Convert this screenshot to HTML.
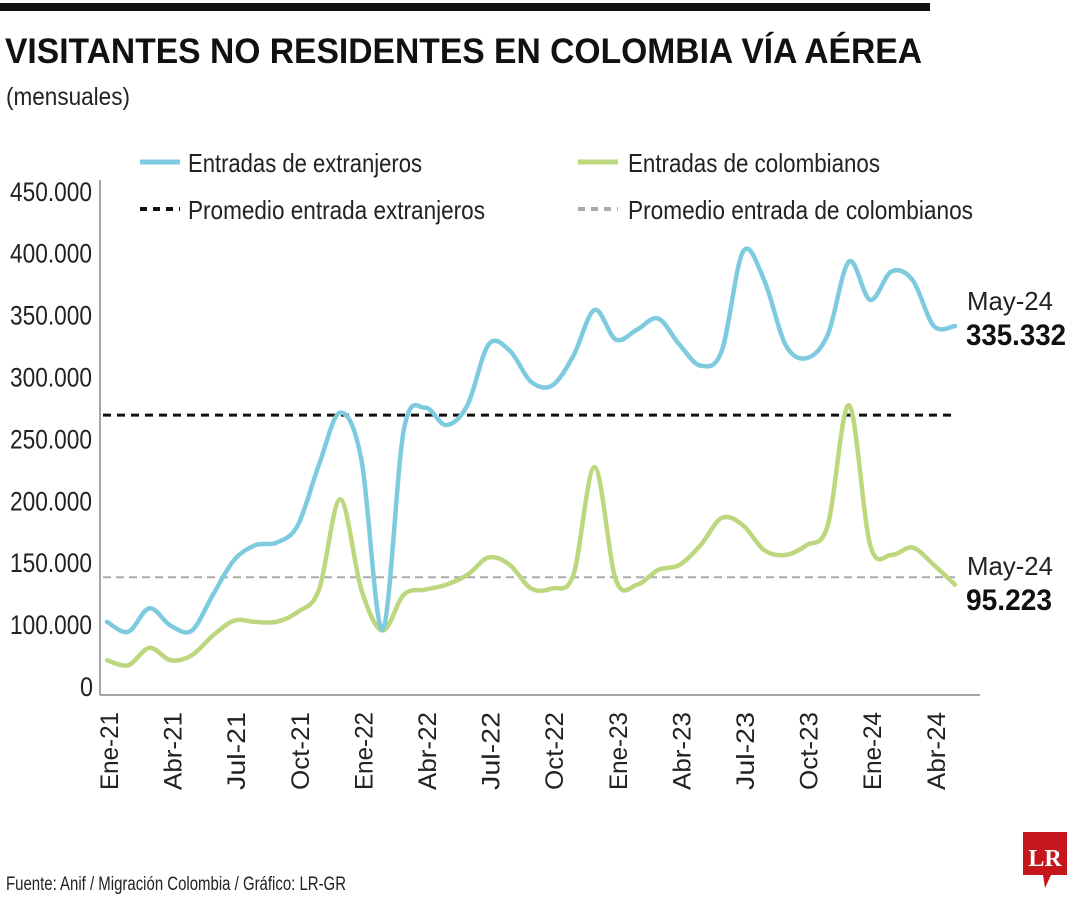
<!DOCTYPE html>
<html><head><meta charset="utf-8">
<style>
body{margin:0;background:#fff;}
#wrap{position:relative;width:1080px;height:900px;overflow:hidden;font-family:"Liberation Sans Narrow","Liberation Sans",sans-serif;}
svg text{font-family:"Liberation Sans Narrow","Liberation Sans",sans-serif;}
</style></head>
<body>
<div id="wrap">
<svg id="chart" width="1080" height="900">
  <rect x="0" y="3" width="930" height="8" fill="#111"/>
  <text x="5" y="63" font-size="35" font-weight="bold" fill="#111" textLength="917" lengthAdjust="spacingAndGlyphs">VISITANTES NO RESIDENTES EN COLOMBIA VÍA AÉREA</text>
  <text x="6" y="105" font-size="25" fill="#222" textLength="124" lengthAdjust="spacingAndGlyphs">(mensuales)</text>
  <g>
    <line x1="140" y1="162" x2="180" y2="162" stroke="#7ecbe0" stroke-width="5"/>
    <text x="188" y="172" font-size="26" fill="#222" textLength="234" lengthAdjust="spacingAndGlyphs">Entradas de extranjeros</text>
    <line x1="578" y1="162" x2="618" y2="162" stroke="#bcd77d" stroke-width="5"/>
    <text x="628" y="172" font-size="26" fill="#222" textLength="252" lengthAdjust="spacingAndGlyphs">Entradas de colombianos</text>
    <line x1="140" y1="209" x2="180" y2="209" stroke="#111" stroke-width="4" stroke-dasharray="7,6"/>
    <text x="188" y="219" font-size="26" fill="#222" textLength="297" lengthAdjust="spacingAndGlyphs">Promedio entrada extranjeros</text>
    <line x1="578" y1="209" x2="618" y2="209" stroke="#aaa" stroke-width="4" stroke-dasharray="7,6"/>
    <text x="628" y="219" font-size="26" fill="#222" textLength="345" lengthAdjust="spacingAndGlyphs">Promedio entrada de colombianos</text>
  </g>
  <g id="plot"></g>
  <g>
    <text x="967" y="310" font-size="26" fill="#222" textLength="86" lengthAdjust="spacingAndGlyphs">May-24</text>
    <text x="966" y="345" font-size="30" font-weight="bold" fill="#111" textLength="100" lengthAdjust="spacingAndGlyphs">335.332</text>
    <text x="967" y="575" font-size="26" fill="#222" textLength="86" lengthAdjust="spacingAndGlyphs">May-24</text>
    <text x="966" y="610" font-size="30" font-weight="bold" fill="#111" textLength="86" lengthAdjust="spacingAndGlyphs">95.223</text>
  </g>
  <text x="6" y="890" font-size="19" fill="#222" textLength="340" lengthAdjust="spacingAndGlyphs">Fuente: Anif / Migración Colombia / Gráfico: LR-GR</text>
  <g>
    <path d="M1023 832 H1067 V875 H1051 L1045 888 L1043 875 H1023 Z" fill="#c4161c"/>
    <text x="1045" y="866" font-size="24" font-weight="bold" fill="#fff" text-anchor="middle" style="font-family:'Liberation Serif',serif">LR</text>
  </g>
</svg>
</div>
<script>
const tickValues=[50000,100000,150000,200000,250000,300000,350000,400000,450000];
const tickLabels=["0","100.000","150.000","200.000","250.000","300.000","350.000","400.000","450.000"];
const xLabels=["Ene-21","Abr-21","Jul-21","Oct-21","Ene-22","Abr-22","Jul-22","Oct-22","Ene-23","Abr-23","Jul-23","Oct-23","Ene-24","Abr-24"];
const extranjeros=[101000,93000,112000,98000,94000,123000,151000,163000,165000,179000,228000,270000,232000,95000,256000,274000,260000,276000,325000,320000,295000,292000,316000,353000,329000,337000,346000,325000,308000,320000,400000,377000,325000,314000,333000,392000,361000,384000,377000,340000,340000];
const colombianos=[70000,66000,80000,70000,74000,90000,102000,101000,101000,109000,127000,200000,127000,94000,123000,127000,131000,139000,153000,147000,128000,128000,139000,226000,135000,131000,143000,147000,163000,185000,179000,159000,155000,163000,179000,276000,163000,155000,161000,147000,131000];
const promedioExtranjeros=268000;
const promedioColombianos=137000;

const NS="http://www.w3.org/2000/svg";
const plot=document.getElementById('plot');
const X0=107,DX=21.2,YB=685,PX=61.9/50000;
function xs(i){return X0+i*DX;}
function ys(v){return YB-(v-50000)*PX;}
function mk(tag,attrs,parent){const e=document.createElementNS(NS,tag);for(const k in attrs)e.setAttribute(k,attrs[k]);(parent||plot).appendChild(e);return e;}

const yax=mk('line',{x1:100,y1:180,x2:100,y2:695,stroke:'#888','stroke-width':1.5});


const xax=mk('line',{x1:100,y1:695,x2:980,y2:695,stroke:'#888','stroke-width':1.5});



tickValues.forEach((v,i)=>{
  const lab=tickLabels[i];
  const attrs={x:lab.length>1?10:80,y:ys(v)+11,'font-size':27,fill:'#222'};
  if(lab.length>1){attrs.textLength=82;attrs.lengthAdjust='spacingAndGlyphs';}
  else{attrs.textLength=13;attrs.lengthAdjust='spacingAndGlyphs';}
  const t=mk('text',attrs);
  t.textContent=lab;
  
  
});
xLabels.forEach((l,i)=>{
  const x=xs(i*3)+2;
  const t=mk('text',{x:0,y:0,'font-size':25,fill:'#222','text-anchor':'end',textLength:78,lengthAdjust:'spacingAndGlyphs',transform:`translate(${x+9},712) rotate(-90)`});
  t.textContent=l;
  
  
});

function smooth(vals){
  const p=vals.map((v,i)=>[xs(i),ys(v)]);
  let d=`M${p[0][0]},${p[0][1]}`;
  for(let i=0;i<p.length-1;i++){
    const p0=p[i-1]||p[i],p1=p[i],p2=p[i+1],p3=p[i+2]||p2;
    const c1=[p1[0]+(p2[0]-p0[0])/6,p1[1]+(p2[1]-p0[1])/6];
    const c2=[p2[0]-(p3[0]-p1[0])/6,p2[1]-(p3[1]-p1[1])/6];
    d+=` C${c1[0]},${c1[1]} ${c2[0]},${c2[1]} ${p2[0]},${p2[1]}`;
  }
  return d;
}
const a1=mk('line',{x1:103,x2:955,y1:ys(promedioExtranjeros),y2:ys(promedioExtranjeros),stroke:'#111','stroke-width':3,'stroke-dasharray':'8,6'});


const a2=mk('line',{x1:103,x2:955,y1:ys(promedioColombianos),y2:ys(promedioColombianos),stroke:'#aaa','stroke-width':2,'stroke-dasharray':'8,5'});


const l2=mk('path',{d:smooth(colombianos),fill:'none',stroke:'#bcd77d','stroke-width':4.5,'stroke-linecap':'round'});


const l1=mk('path',{d:smooth(extranjeros),fill:'none',stroke:'#7ecbe0','stroke-width':4.5,'stroke-linecap':'round'});


</script>
</body></html>
